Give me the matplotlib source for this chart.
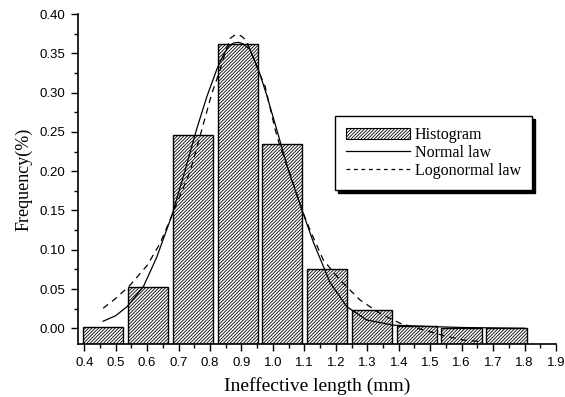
import matplotlib
matplotlib.use('Agg')
import matplotlib.pyplot as plt
from matplotlib.patches import Patch
from matplotlib.lines import Line2D
from matplotlib.ticker import MultipleLocator

# histogram (bin centres and frequencies)
bin_centers = [0.460, 0.603, 0.745, 0.888, 1.030, 1.173, 1.315, 1.458, 1.600, 1.743]
freq = [0.002, 0.052, 0.246, 0.362, 0.235, 0.075, 0.023, 0.003, 0.001, 0.001]
bar_width = 0.128

# fitted curves
normal_x = [0.46, 0.50, 0.536, 0.588, 0.63, 0.679, 0.72, 0.757, 0.79, 0.821, 0.84, 0.859,
            0.875, 0.890, 0.905, 0.927, 0.954, 0.98, 1.012, 1.050, 1.092, 1.129, 1.182,
            1.235, 1.298, 1.382, 1.45, 1.52, 1.60, 1.70, 1.80]
normal_y = [0.009, 0.016, 0.0275, 0.053, 0.090, 0.144, 0.200, 0.253, 0.295, 0.329, 0.346, 0.359,
            0.363, 0.364, 0.362, 0.355, 0.329, 0.297, 0.253, 0.200, 0.151, 0.109, 0.058,
            0.0275, 0.0106, 0.004, 0.003, 0.002, 0.001, 0.0005, 0.0]

logn_x = [0.46, 0.50, 0.546, 0.60, 0.641, 0.679, 0.737, 0.774, 0.805, 0.832, 0.850, 0.864,
          0.878, 0.890, 0.903, 0.917, 0.943, 0.975, 1.007, 1.023, 1.060, 1.092, 1.118, 1.160,
          1.213, 1.277, 1.340, 1.404, 1.478, 1.540, 1.605, 1.665]
logn_y = [0.0255, 0.038, 0.055, 0.080, 0.108, 0.144, 0.200, 0.253, 0.298, 0.329, 0.353, 0.369,
          0.373, 0.374, 0.371, 0.365, 0.338, 0.308, 0.253, 0.231, 0.190, 0.151, 0.125, 0.087,
          0.0615, 0.036, 0.019, 0.0064, -0.002, -0.009, -0.015, -0.017]

y_bottom = -0.02

plt.rcParams['hatch.linewidth'] = 0.6

fig = plt.figure(figsize=(5.65, 3.97), dpi=100)
ax = fig.add_axes([0.138, 0.1335, 0.846, 0.8312])

# bars start at the axis line, like the original
ax.bar(bin_centers, [f - y_bottom for f in freq], width=bar_width, bottom=y_bottom,
       color='white', edgecolor='black', linewidth=1.0, hatch='//////////', zorder=2)

ax.plot(normal_x, normal_y, color='black', linewidth=0.9, zorder=3)
ax.plot(logn_x, logn_y, color='black', linewidth=0.9, linestyle=(0, (5, 4)), zorder=3)

ax.set_xlim(0.38, 1.9)
ax.set_ylim(y_bottom, 0.40)
ax.spines['top'].set_visible(False)
ax.spines['right'].set_visible(False)
ax.xaxis.set_minor_locator(MultipleLocator(0.05))
ax.yaxis.set_minor_locator(MultipleLocator(0.025))
ax.set_xticks([0.4 + 0.1 * i for i in range(16)])
ax.set_xticklabels(['%.1f' % (0.4 + 0.1 * i) for i in range(16)])
ax.set_yticks([0.05 * i for i in range(9)])
ax.set_yticklabels(['%.2f' % (0.05 * i) for i in range(9)])
ax.tick_params(which='major', direction='out', length=5, width=1,
               labelsize=9.5, pad=4)
ax.tick_params(which='minor', direction='out', length=3, width=1)
for lab in ax.get_xticklabels() + ax.get_yticklabels():
    lab.set_family('Liberation Sans')
for sp in ['left', 'bottom']:
    ax.spines[sp].set_linewidth(1.2)

ax.set_xlabel('Ineffective length (mm)', family='Liberation Serif', fontsize=14, labelpad=6)
ax.set_ylabel('Frequency(%)', family='Liberation Serif', fontsize=13, labelpad=5)

handles = [Patch(facecolor='white', edgecolor='black', hatch='//////////', linewidth=0.8),
           Line2D([], [], color='black', linewidth=0.9),
           Line2D([], [], color='black', linewidth=0.9, linestyle=(0, (3, 3)))]
labels = ['Histogram', 'Normal law', 'Logonormal law']
leg = ax.legend(handles, labels, loc='upper left', bbox_to_anchor=(0.538, 0.69),
                frameon=True, fancybox=False, edgecolor='black',
                shadow={'color': 'black', 'alpha': 1},
                prop={'family': 'Liberation Serif', 'size': 11.5},
                handlelength=4.0, handleheight=0.7, handletextpad=0.3,
                labelspacing=0.1, borderpad=0.7, borderaxespad=0)
leg.get_frame().set_linewidth(1.0)

fig.savefig('out.png', dpi=100)
